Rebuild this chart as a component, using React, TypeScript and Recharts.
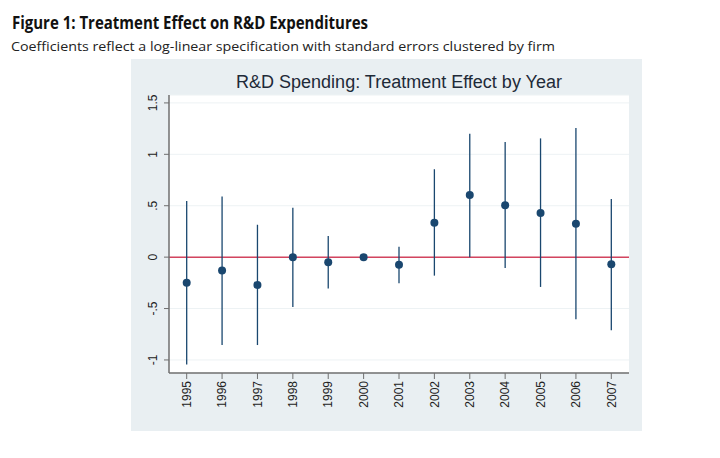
import React from "react";
import {
  ScatterChart,
  Scatter,
  XAxis,
  YAxis,
  CartesianGrid,
  ReferenceLine,
  ErrorBar,
} from "recharts";

// Point estimates and 95% CI bounds
const years = [1995, 1996, 1997, 1998, 1999, 2000, 2001, 2002, 2003, 2004, 2005, 2006, 2007];
const estimates = [-0.25, -0.13, -0.27, 0.0, -0.05, 0.0, -0.075, 0.335, 0.605, 0.505, 0.43, 0.325, -0.07];
const ciLow = [-1.045, -0.855, -0.855, -0.485, -0.305, 0.0, -0.255, -0.18, 0.0, -0.105, -0.29, -0.605, -0.71];
const ciHigh = [0.545, 0.59, 0.315, 0.48, 0.205, 0.0, 0.1, 0.855, 1.2, 1.12, 1.155, 1.255, 0.565];
const yTicks = [-1, -0.5, 0, 0.5, 1, 1.5];

const data = years.map((year, i) => ({
  year,
  est: estimates[i],
  err: [estimates[i] - ciLow[i], ciHigh[i] - estimates[i]],
}));

const NAVY = "#1a476f";
const AXIS = "#6f6f6f";
const TICK_FONT = "'Liberation Sans', Arial, sans-serif";

// Stata style: drop the leading zero (.5, -.5)
const fmt = (v: number) => (v === 0 ? "0" : String(v).replace("0.", "."));

const YTick = ({ x, y, payload }: any) => (
  <text
    transform={`translate(${x - 9},${y}) rotate(-90)`}
    textAnchor="middle"
    dy="0.35em"
    fontSize={12}
    fontFamily={TICK_FONT}
    fill="#222"
  >
    {fmt(payload.value)}
  </text>
);

const XTick = ({ x, y, payload }: any) => (
  <text
    transform={`translate(${x},${y}) rotate(-90)`}
    textAnchor="end"
    dy="0.35em"
    fontSize={12}
    fontFamily={TICK_FONT}
    fill="#222"
  >
    {payload.value}
  </text>
);

const Dot = ({ cx, cy }: any) => <circle cx={cx} cy={cy} r={4} fill={NAVY} />;

export default function App() {
  return (
    <div style={{ position: "absolute", left: 0, top: 0, width: 720, height: 458, background: "#fff" }}>
      <div
        style={{
          position: "absolute",
          left: 131,
          top: 59,
          width: 511,
          height: 372,
          background: "#e9eff2",
        }}
      >
        <ScatterChart width={511} height={372} margin={{ top: 36, right: 13, bottom: 0, left: 0 }}>
          <CartesianGrid vertical={false} stroke="#edf2f4" fill="#ffffff" />
          <XAxis
            dataKey="year"
            type="number"
            domain={[1994.5, 2007.5]}
            ticks={years}
            interval={0}
            height={58}
            tickSize={6}
            tickMargin={2}
            tick={<XTick />}
            axisLine={{ stroke: AXIS, strokeWidth: 1.5 }}
            tickLine={{ stroke: AXIS }}
          />
          <YAxis
            dataKey="est"
            type="number"
            domain={[-1.127, 1.577]}
            ticks={yTicks}
            interval={0}
            allowDataOverflow
            width={38}
            tickSize={5}
            tickMargin={2}
            tick={<YTick />}
            axisLine={{ stroke: AXIS, strokeWidth: 1.5 }}
            tickLine={{ stroke: AXIS }}
          />
          <ReferenceLine y={0} stroke="#d3445f" strokeWidth={1.5} />
          <Scatter data={data} shape={<Dot />} isAnimationActive={false}>
            <ErrorBar dataKey="err" direction="y" width={0} stroke={NAVY} strokeWidth={1.3} />
          </Scatter>
        </ScatterChart>
      </div>
      <svg
        width={720}
        height={458}
        style={{ position: "absolute", left: 0, top: 0, pointerEvents: "none" }}
      >
        <text
          x={12}
          y={29}
          fontFamily="'Open Sans', sans-serif"
          fontWeight={700}
          fontSize={18}
          fill="#111"
          textLength={356}
          lengthAdjust="spacingAndGlyphs"
        >
          Figure 1: Treatment Effect on R&amp;D Expenditures
        </text>
        <text
          x={11}
          y={51}
          fontFamily="'Open Sans', sans-serif"
          fontSize={13}
          fill="#222"
          textLength={544}
          lengthAdjust="spacingAndGlyphs"
        >
          Coefficients reflect a log-linear specification with standard errors clustered by firm
        </text>
        <text
          x={399}
          y={88}
          textAnchor="middle"
          fontFamily={TICK_FONT}
          fontSize={18}
          fill="#1e2a38"
        >
          R&amp;D Spending: Treatment Effect by Year
        </text>
      </svg>
    </div>
  );
}
